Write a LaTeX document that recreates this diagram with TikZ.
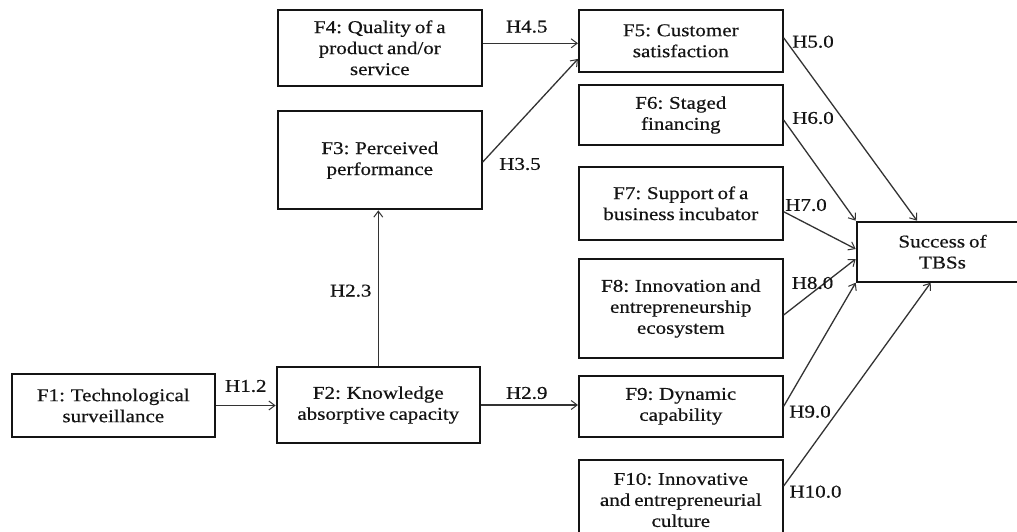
\documentclass[tikz,border=0pt]{standalone}
\usepackage{fontspec}
\setmainfont{Liberation Serif}[FakeStretch=1.17, WordSpace=0.75, FakeBold=0.5]
\usetikzlibrary{arrows.meta}
\definecolor{ink}{HTML}{141414}
\definecolor{wire}{HTML}{333333}
\tikzset{
  factor/.style={draw=ink, line width=2pt, fill=white, inner sep=0pt,
    align=center, text=ink, font=\fontsize{18}{21}\selectfont},
  hyp/.style={inner sep=0pt, text=ink, font=\fontsize{18}{21}\selectfont},
  link/.style={draw=wire, line width=1.3pt,
    -{Straight Barb[length=6pt,width=9pt,line width=1pt]}}
}
\begin{document}
\begin{tikzpicture}[x=1pt,y=-1pt]
\useasboundingbox (0,0) rectangle (1017,531);
\clip (0,0) rectangle (1017,531);
\fill[white] (0,0) rectangle (1017,531);

% factor boxes
\node[factor, minimum width=203.5pt, minimum height=75.7pt] (F4) at (379.8,47.8)
  {F4: Quality of a\\product and/or\\service};
\node[factor, minimum width=203.5pt, minimum height=98.3pt] (F3) at (379.8,160.2)
  {F3: Perceived\\performance};
\node[factor, minimum width=203.3pt, minimum height=63pt] (F1) at (113.3,405.5)
  {F1: Technological\\surveillance};
\node[factor, minimum width=203.3pt, minimum height=75.4pt] (F2) at (378.3,405)
  {F2: Knowledge\\absorptive capacity};
\node[factor, minimum width=203.7pt, minimum height=61.7pt] (F5) at (680.8,40.8)
  {F5: Customer\\satisfaction};
\node[factor, minimum width=203.7pt, minimum height=60pt] (F6) at (680.8,115)
  {F6: Staged\\financing};
\node[factor, minimum width=203.7pt, minimum height=73.3pt] (F7) at (680.8,203.3)
  {F7: Support of a\\business incubator};
\node[factor, minimum width=203.7pt, minimum height=98.4pt] (F8) at (680.8,308.5)
  {F8: Innovation and\\entrepreneurship\\ecosystem};
\node[factor, minimum width=203.7pt, minimum height=60.7pt] (F9) at (680.8,406.3)
  {F9: Dynamic\\capability};
\node[factor, minimum width=203.7pt, minimum height=80pt] (F10) at (680.8,500)
  {F10: Innovative\\and entrepreneurial\\culture};
\node[factor, minimum width=171.6pt, minimum height=60pt] (S) at (942.5,251.7)
  {Success of\\TBSs};

% hypothesised paths
\draw[link] (F1.east) -- (F1.east -| F2.west);
\draw[link] (F2.east) -- (F2.east -| F9.west);
\draw[link] (F2.north) -- (F2.north |- F3.south);
\draw[link] ([yshift=4.5pt]F4.east) -- ([yshift=4.5pt]F4.east -| F5.west);
\draw[link] ([yshift=-2pt]F3.east) -- ([yshift=13.7pt]F5.south west);
\draw[link] ([yshift=3pt]F5.east) -- ([xshift=61.3pt]S.north west);
\draw[link] ([yshift=-5pt]F6.east) -- (S.north west);
\draw[link] ([yshift=-8.4pt]F7.east) -- ([yshift=-28.3pt]S.north west);
\draw[link] ([yshift=-6.5pt]F8.east) -- ([yshift=-38.3pt]S.north west);
\draw[link] (F9.east) -- (S.south west);
\draw[link] ([yshift=-27pt]F10.north east) -- ([xshift=75pt]S.south west);

% hypothesis labels
\node[hyp] (h12) at (245.8,386) {H1.2};
\node[hyp] (h23) at (350.7,290.7) {H2.3};
\node[hyp] (h29) at (526.7,393) {H2.9};
\node[hyp] (h45) at (526.7,26.7) {H4.5};
\node[hyp] (h35) at (520,164) {H3.5};
\node[hyp] (h50) at (813,41.7) {H5.0};
\node[hyp] (h60) at (813,118) {H6.0};
\node[hyp] (h70) at (806,205) {H7.0};
\node[hyp] (h80) at (812.5,283) {H8.0};
\node[hyp] (h90) at (810,411.7) {H9.0};
\node[hyp] (h100) at (815.5,491.7) {H10.0};
\end{tikzpicture}
\end{document}
